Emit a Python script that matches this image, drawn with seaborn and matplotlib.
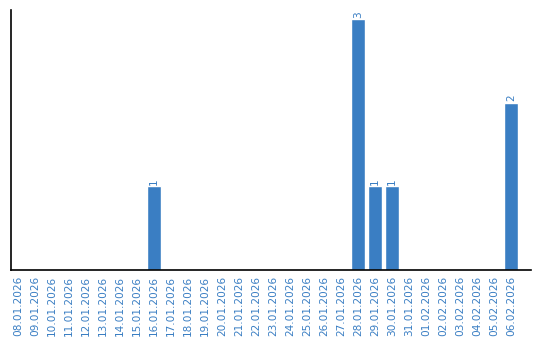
import matplotlib
matplotlib.use("Agg")
import matplotlib.pyplot as plt
import seaborn as sns
import pandas as pd

dates = ["08.01.2026", "09.01.2026", "10.01.2026", "11.01.2026", "12.01.2026",
         "13.01.2026", "14.01.2026", "15.01.2026", "16.01.2026", "17.01.2026",
         "18.01.2026", "19.01.2026", "20.01.2026", "21.01.2026", "22.01.2026",
         "23.01.2026", "24.01.2026", "25.01.2026", "26.01.2026", "27.01.2026",
         "28.01.2026", "29.01.2026", "30.01.2026", "31.01.2026", "01.02.2026",
         "02.02.2026", "03.02.2026", "04.02.2026", "05.02.2026", "06.02.2026"]
counts = [0, 0, 0, 0, 0, 0, 0, 0, 1, 0,
          0, 0, 0, 0, 0, 0, 0, 0, 0, 0,
          3, 1, 1, 0, 0, 0, 0, 0, 0, 2]

df = pd.DataFrame({"date": dates, "count": counts})
blue = "#3a7ec3"

sns.set_style("white")
fig = plt.figure(figsize=(5.4, 3.4), dpi=100)
ax = fig.add_axes([10.5 / 540, (340 - 270) / 340, 520 / 540, 260 / 340])
sns.barplot(data=df, x="date", y="count", color=blue, saturation=1,
            width=0.84, ax=ax)

for i, v in enumerate(counts):
    if v > 0:
        ax.text(i, v + 0.02, str(v), rotation=90, ha="center", va="bottom",
                fontsize=7.6, color=blue)

ax.set_xlim(-0.44, 30.15)
ax.set_ylim(0, 3.11)
ax.set_yticks([])
ax.set_xlabel("")
ax.set_ylabel("")
ax.tick_params(axis="x", length=0, pad=4, labelsize=7.6, labelcolor=blue,
               rotation=90)
for s in ["top", "right"]:
    ax.spines[s].set_visible(False)
for s in ["left", "bottom"]:
    ax.spines[s].set_color("black")
    ax.spines[s].set_linewidth(1.2)

fig.savefig("out.png", dpi=100)
